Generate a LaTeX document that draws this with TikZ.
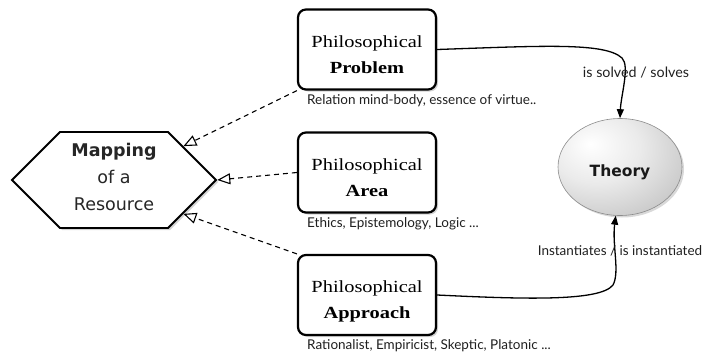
\documentclass[tikz,border=0pt]{standalone}
\usepackage{fontspec}
\usetikzlibrary{shapes.geometric,shapes.symbols,arrows.meta,shadows}
\newfontfamily\serfont{Liberation Serif}[FakeStretch=1.2]
\newfontfamily\hexfont{DejaVu Sans}
\newfontfamily\capfont{Lato}
\pgfdeclareradialshading{theoryshade}{\pgfpoint{-12bp}{12bp}}{color(0bp)=(white); color(18bp)=(white!92!black); color(38bp)=(white!78!black); color(50bp)=(white!60!black); color(100bp)=(white!60!black)}
\tikzset{
  conceptbox/.style={draw=black, line width=2.2pt, rounded corners=8pt, fill=white,
    minimum width=138pt, minimum height=80pt, align=center, inner sep=0pt,
    font={\serfont\fontsize{17}{26}\selectfont}, text height=49pt, text depth=2pt,
    drop shadow={shadow xshift=2pt, shadow yshift=-2pt, opacity=0.35}},
  mapping/.style={shape=signal, signal to=west and east, signal pointer angle=90,
    draw=black, line width=1.8pt, fill=white, minimum height=96pt, minimum width=204pt,
    inner sep=0pt, align=center, text=black!85,
    font={\hexfont\fontsize{17.5}{27}\selectfont}, text height=60pt, text depth=0pt,
    drop shadow={shadow xshift=2pt, shadow yshift=-2pt, opacity=0.35}},
  theory/.style={shape=ellipse, draw=black!45, line width=0.6pt, shading=theoryshade,
    minimum width=124pt, minimum height=97pt, inner sep=0pt,
    font={\hexfont\bfseries\fontsize{15.5}{18}\selectfont}, text=black!90,
    text height=18pt, text depth=0pt,
    drop shadow={shadow xshift=2pt, shadow yshift=-2pt, opacity=0.3}},
  captext/.style={inner sep=0pt, text=black!88, font={\capfont\fontsize{13.5}{16}\selectfont}},
  conn/.style={line width=1.3pt, -{Triangle[length=9pt,width=7pt]}},
  dashconn/.style={line width=1.1pt, dash pattern=on 5pt off 4pt,
    -{Triangle[open,length=13pt,width=11pt,line width=1.1pt,fill=white]}}
}
\begin{document}
\begin{tikzpicture}[x=1pt,y=-1pt]
\useasboundingbox (0,0) rectangle (704,356);
% nodes
\node[mapping] (map) at (114,180) {\textbf{Mapping}\\of a\\Resource};
\node[conceptbox] (prob) at (367,49.5) {Philosophical\\\textbf{Problem}};
\node[conceptbox] (area) at (367,172.5) {Philosophical\\\textbf{Area}};
\node[conceptbox] (appr) at (367,295) {Philosophical\\\textbf{Approach}};
\node[theory] (theory) at (620,167) {Theory};
% captions
\node[captext, anchor=base west] (pcap) at (307,104) {Relation mind-body, essence of virtue..};
\node[captext, anchor=base west] (acap) at (307,227) {Ethics, Epistemology, Logic ...};
\node[captext, anchor=base west] (rcap) at (307,349) {Rationalist, Empiricist, Skeptic, Platonic ...};
% dashed connectors
\draw[dashconn] (prob.south west) -- (map.26);
\draw[dashconn] (area.west) -- (map.east);
\draw[dashconn] (appr.north west) -- (map.-26);
% relation connectors
\draw[conn] (prob.east) .. controls (540,46) and (605,42) .. (622,58)
  .. controls (630,66) and (621,95) .. (theory.north);
\draw[conn] (appr.east) .. controls (520,299) and (600,302) .. (613,285)
  .. controls (620,272) and (612,245) .. (theory.265);
% labels
\node[captext, anchor=base, font={\capfont\fontsize{14.3}{16}\selectfont}] (lsolve) at (636,77) {is solved / solves};
\node[captext, anchor=base] (linst) at (620,255) {Instantiates / is instantiated};
\end{tikzpicture}
\end{document}
